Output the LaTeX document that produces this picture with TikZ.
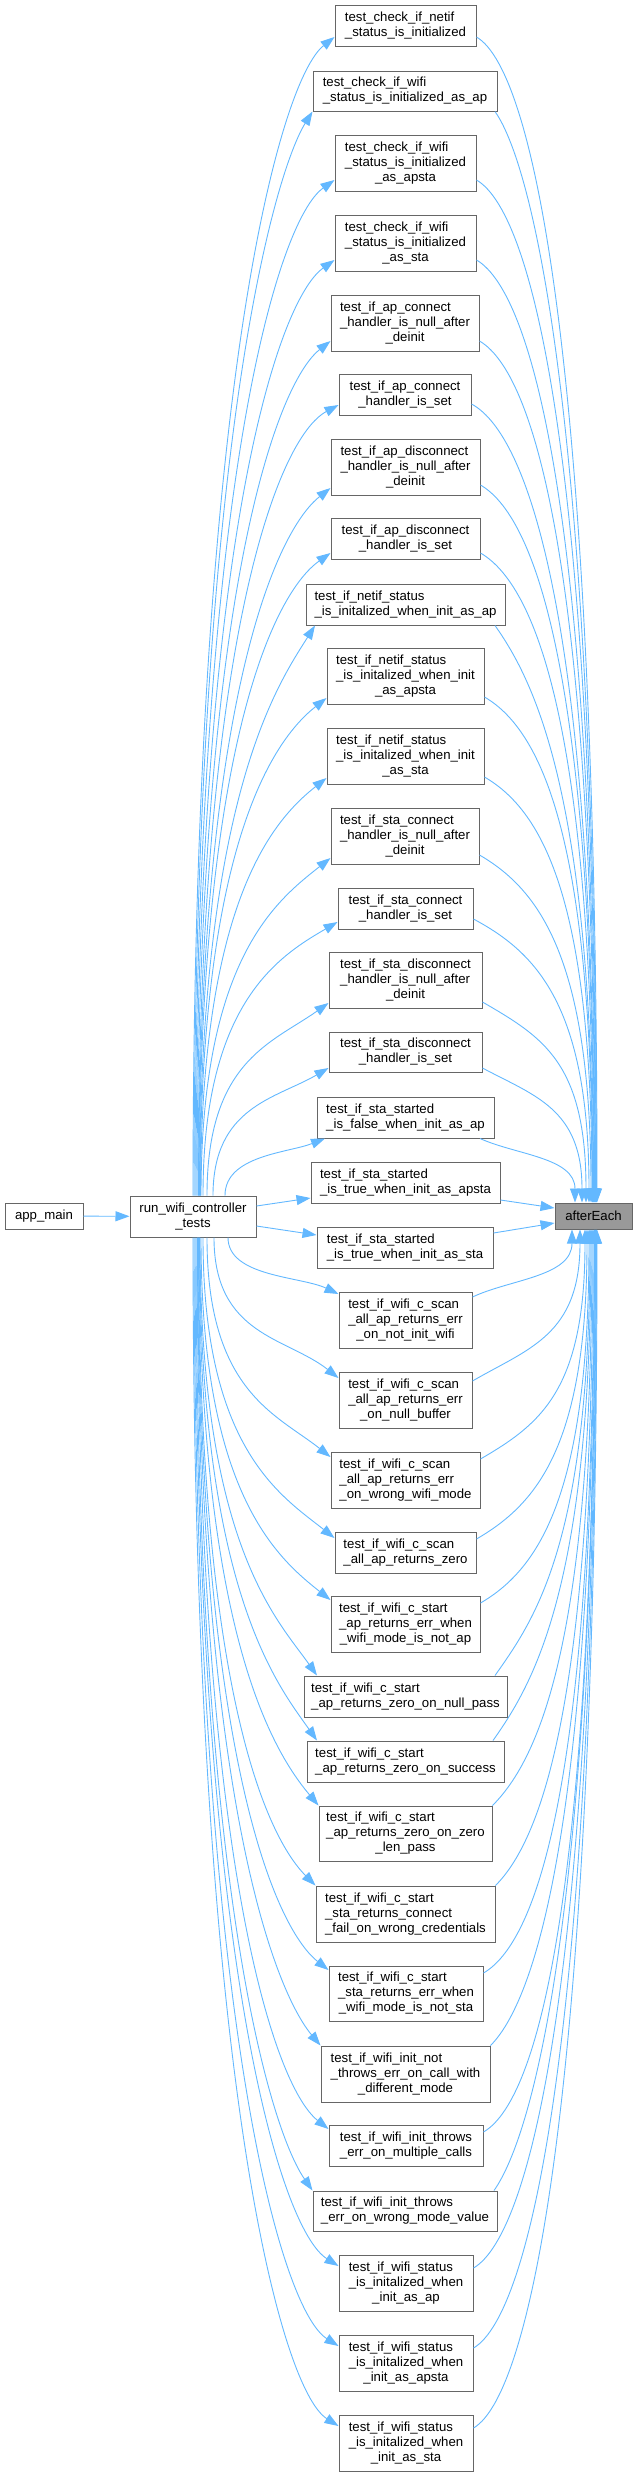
\documentclass[tikz,border=0pt]{standalone}
\usepackage{fontspec}
\setmainfont{Liberation Sans}
\usetikzlibrary{arrows.meta,calc}
\definecolor{edgeblue}{HTML}{63B8FF}
\definecolor{boxline}{HTML}{666666}
\definecolor{aefill}{HTML}{999999}
\tikzset{
 tbox/.style={draw=boxline, line width=1pt, fill=white, inner sep=0pt, font=\fontsize{13.2}{15}\selectfont, text=black},
 conn/.style={draw=edgeblue, line width=0.9pt, -{Triangle[length=14pt,width=10pt]}},
}
\newcommand\lab[2]{\begin{tabular}{@{}l@{}}#1\\\multicolumn{1}{@{}c@{}}{#2}\end{tabular}}
\newcommand\T[6]{\node[tbox, minimum width=#4pt, minimum height=#5pt] (#1) at (#2,#3) {#6};}
% run -> test above
\newcommand\UpL[5]{%
\pgfmathsetmacro\qa{#3+0.3*(1196-#3)}%
\pgfmathsetmacro\qL{min(70,0.25*(abs(#2-#1)+abs(1196-#3)))}%
\pgfmathsetmacro\qbx{#2-\qL*cos(#4)}%
\pgfmathsetmacro\qby{#3+\qL*sin(#4)}%
\draw[conn] ($(run.north)+(#1-193,0)$) .. controls (#1,\qa) and (\qbx,\qby) .. (#5);}
% run -> test below
\newcommand\DnL[5]{%
\pgfmathsetmacro\qa{#3-0.3*(#3-1237)}%
\pgfmathsetmacro\qL{min(70,0.25*(abs(#2-#1)+abs(#3-1237)))}%
\pgfmathsetmacro\qbx{#2-\qL*cos(#4)}%
\pgfmathsetmacro\qby{#3-\qL*sin(#4)}%
\draw[conn] ($(run.south)+(#1-193,0)$) .. controls (#1,\qa) and (\qbx,\qby) .. (#5);}
% test above -> afterEach
\newcommand\UpR[5]{%
\pgfmathsetmacro\qL{min(70,0.25*(abs(#5-#2)+abs(1203-#3)))}%
\pgfmathsetmacro\qax{#2+\qL*cos(#4)}%
\pgfmathsetmacro\qay{#3+\qL*sin(#4)}%
\pgfmathsetmacro\qb{#3+0.3*(1203-#3)}%
\draw[conn] (#1) .. controls (\qax,\qay) and (#5,\qb) .. ($(ae.north)+(#5-593.5,0)$);}
% test below -> afterEach
\newcommand\DnR[5]{%
\pgfmathsetmacro\qL{min(70,0.25*(abs(#5-#2)+abs(#3-1229)))}%
\pgfmathsetmacro\qax{#2+\qL*cos(#4)}%
\pgfmathsetmacro\qay{#3-\qL*sin(#4)}%
\pgfmathsetmacro\qb{#3-0.3*(#3-1229)}%
\draw[conn] (#1) .. controls (\qax,\qay) and (#5,\qb) .. ($(ae.south)+(#5-593.5,0)$);}
\begin{document}
\begin{tikzpicture}[x=1pt,y=-1pt]
\useasboundingbox (0,0) rectangle (637,2476);
% nodes
\T{app}{44}{1216}{78}{26}{app\_main}
\T{run}{193}{1216.5}{126}{41}{\lab{run\_wifi\_controller}{\_tests}}
\node[tbox, fill=aefill, minimum width=77pt, minimum height=26pt] (ae) at (593.5,1216) {afterEach};
\T{t1}{405.5}{25.5}{141}{41}{\lab{test\_check\_if\_netif}{\_status\_is\_initialized}}
\T{t2}{405}{91}{184}{40}{\lab{test\_check\_if\_wifi}{\_status\_is\_initialized\_as\_ap}}
\T{t3}{405.5}{163}{141}{56}{\lab{test\_check\_if\_wifi\\\_status\_is\_initialized}{\_as\_apsta}}
\T{t4}{405.5}{243}{141}{56}{\lab{test\_check\_if\_wifi\\\_status\_is\_initialized}{\_as\_sta}}
\T{t5}{405}{323}{148}{56}{\lab{test\_if\_ap\_connect\\\_handler\_is\_null\_after}{\_deinit}}
\T{t6}{405}{394.5}{132}{41}{\lab{test\_if\_ap\_connect}{\_handler\_is\_set}}
\T{t7}{405.5}{467}{149}{56}{\lab{test\_if\_ap\_disconnect\\\_handler\_is\_null\_after}{\_deinit}}
\T{t8}{405.5}{538.5}{149}{41}{\lab{test\_if\_ap\_disconnect}{\_handler\_is\_set}}
\T{t9}{405.5}{604.5}{199}{41}{\lab{test\_if\_netif\_status}{\_is\_initalized\_when\_init\_as\_ap}}
\T{t10}{405.5}{676}{157}{56}{\lab{test\_if\_netif\_status\\\_is\_initalized\_when\_init}{\_as\_apsta}}
\T{t11}{405.5}{756}{157}{56}{\lab{test\_if\_netif\_status\\\_is\_initalized\_when\_init}{\_as\_sta}}
\T{t12}{405}{836}{148}{56}{\lab{test\_if\_sta\_connect\\\_handler\_is\_null\_after}{\_deinit}}
\T{t13}{405.5}{908.5}{135}{41}{\lab{test\_if\_sta\_connect}{\_handler\_is\_set}}
\T{t14}{405.5}{980}{153}{56}{\lab{test\_if\_sta\_disconnect\\\_handler\_is\_null\_after}{\_deinit}}
\T{t15}{405.5}{1052}{153}{40}{\lab{test\_if\_sta\_disconnect}{\_handler\_is\_set}}
\T{t16}{405.5}{1117.5}{177}{41}{\lab{test\_if\_sta\_started}{\_is\_false\_when\_init\_as\_ap}}
\T{t17}{405.5}{1182.5}{189}{41}{\lab{test\_if\_sta\_started}{\_is\_true\_when\_init\_as\_apsta}}
\T{t18}{405}{1247.5}{176}{41}{\lab{test\_if\_sta\_started}{\_is\_true\_when\_init\_as\_sta}}
\T{t19}{405.5}{1320}{133}{56}{\lab{test\_if\_wifi\_c\_scan\\\_all\_ap\_returns\_err}{\_on\_not\_init\_wifi}}
\T{t20}{405.5}{1400}{133}{56}{\lab{test\_if\_wifi\_c\_scan\\\_all\_ap\_returns\_err}{\_on\_null\_buffer}}
\T{t21}{405.5}{1480}{149}{56}{\lab{test\_if\_wifi\_c\_scan\\\_all\_ap\_returns\_err}{\_on\_wrong\_wifi\_mode}}
\T{t22}{405.5}{1552.5}{141}{41}{\lab{test\_if\_wifi\_c\_scan}{\_all\_ap\_returns\_zero}}
\T{t23}{405.5}{1624}{149}{56}{\lab{test\_if\_wifi\_c\_start\\\_ap\_returns\_err\_when}{\_wifi\_mode\_is\_not\_ap}}
\T{t24}{405.5}{1696.5}{203}{41}{\lab{test\_if\_wifi\_c\_start}{\_ap\_returns\_zero\_on\_null\_pass}}
\T{t25}{405.5}{1761.5}{197}{41}{\lab{test\_if\_wifi\_c\_start}{\_ap\_returns\_zero\_on\_success}}
\T{t26}{405.5}{1833.5}{173}{55}{\lab{test\_if\_wifi\_c\_start\\\_ap\_returns\_zero\_on\_zero}{\_len\_pass}}
\T{t27}{405.5}{1914}{179}{56}{\lab{test\_if\_wifi\_c\_start\\\_sta\_returns\_connect}{\_fail\_on\_wrong\_credentials}}
\T{t28}{406}{1993.5}{154}{55}{\lab{test\_if\_wifi\_c\_start\\\_sta\_returns\_err\_when}{\_wifi\_mode\_is\_not\_sta}}
\T{t29}{405.5}{2074}{169}{56}{\lab{test\_if\_wifi\_init\_not\\\_throws\_err\_on\_call\_with}{\_different\_mode}}
\T{t30}{406}{2145.5}{154}{41}{\lab{test\_if\_wifi\_init\_throws}{\_err\_on\_multiple\_calls}}
\T{t31}{405}{2211}{184}{40}{\lab{test\_if\_wifi\_init\_throws}{\_err\_on\_wrong\_mode\_value}}
\T{t32}{406}{2283}{134}{56}{\lab{test\_if\_wifi\_status\\\_is\_initalized\_when}{\_init\_as\_ap}}
\T{t33}{406}{2363}{134}{56}{\lab{test\_if\_wifi\_status\\\_is\_initalized\_when}{\_init\_as\_apsta}}
\T{t34}{406}{2443}{134}{56}{\lab{test\_if\_wifi\_status\\\_is\_initalized\_when}{\_init\_as\_sta}}
% app -> run
\draw[conn] (app) -- (run);
% run -> tests above
\UpL{193}{335}{37}{38}{t1.west |- 0,37}
\UpL{194}{313}{111}{58}{t2.south west}
\UpL{195}{335}{180}{35}{t3.west |- 0,180}
\UpL{196}{335}{260}{35}{t4.west |- 0,260}
\UpL{197}{331}{341}{38}{t5.west |- 0,341}
\UpL{198}{339}{405}{28}{t6.west |- 0,405}
\UpL{198.5}{331}{488}{38}{t7.west |- 0,488}
\UpL{199}{331}{553}{35}{t8.west |- 0,553}
\UpL{199.5}{315}{625}{58}{315,0 |- t9.south}
\UpL{200}{327}{698}{38}{t10.west |- 0,698}
\UpL{200.5}{327}{778}{38}{t11.west |- 0,778}
\UpL{201}{331}{858}{38}{t12.west |- 0,858}
\UpL{203}{338}{922}{30}{t13.west |- 0,922}
\UpL{207}{329}{1003}{35}{t14.west |- 0,1003}
\UpL{213}{329}{1068}{30}{t15.west |- 0,1068}
\UpL{225}{325}{1138}{22}{325,0 |- t16.south}
\draw[conn] (run.east |- 0,1206) -- (t17.west |- 0,1198);
\draw[conn] (run.east |- 0,1226) -- (t18.west |- 0,1235);
% run -> tests below
\DnL{228}{339}{1294}{25}{t19.west |- 0,1294}
\DnL{214}{339}{1378}{38}{t20.west |- 0,1378}
\DnL{207}{331}{1457}{38}{t21.west |- 0,1457}
\DnL{203}{335}{1538}{38}{t22.west |- 0,1538}
\DnL{201}{331}{1600}{38}{t23.west |- 0,1600}
\DnL{200}{317}{1676}{55}{317,0 |- t24.north}
\DnL{199.5}{317}{1741}{55}{317,0 |- t25.north}
\DnL{199}{319}{1806}{50}{t26.north west}
\DnL{198.5}{316}{1886}{45}{t27.north west}
\DnL{198}{329}{1970}{38}{t28.west |- 0,1970}
\DnL{197.5}{321}{2046}{50}{t29.north west}
\DnL{197}{329}{2129}{38}{t30.west |- 0,2129}
\DnL{196}{313}{2191}{55}{t31.north west}
\DnL{195}{339}{2266}{32}{t32.west |- 0,2266}
\DnL{194}{339}{2346}{32}{t33.west |- 0,2346}
\DnL{193}{339}{2426}{32}{t34.west |- 0,2426}
% tests above -> afterEach
\UpR{t1.east |- 0,37}{476}{37}{30}{597}
\UpR{495,0 |- t2.south}{495}{111}{55}{596.5}
\UpR{t3.east |- 0,180}{476}{180}{30}{596}
\UpR{t4.east |- 0,260}{476}{260}{30}{595.5}
\UpR{t5.east |- 0,341}{479}{341}{30}{595}
\UpR{t6.east |- 0,404}{471}{404}{28}{594.5}
\UpR{t7.east |- 0,485}{480}{485}{30}{594}
\UpR{t8.east |- 0,553}{480}{553}{30}{593.5}
\UpR{495,0 |- t9.south}{495}{625}{55}{593}
\UpR{t10.east |- 0,697}{484}{697}{30}{592.5}
\UpR{t11.east |- 0,777}{484}{777}{30}{592}
\UpR{t12.east |- 0,855}{479}{855}{30}{591}
\UpR{t13.east |- 0,919}{473}{919}{28}{589}
\UpR{t14.east |- 0,1002}{482}{1002}{30}{586}
\UpR{t15.east |- 0,1068}{482}{1068}{28}{582}
\UpR{480,0 |- t16.south}{480}{1138}{25}{575}
\draw[conn] (t17.east |- 0,1200) -- (ae.west |- 0,1208);
\draw[conn] (t18.east |- 0,1233) -- (ae.west |- 0,1223);
% tests below -> afterEach
\DnR{t19.east |- 0,1297}{472}{1297}{25}{572}
\DnR{t20.east |- 0,1381}{472}{1381}{30}{580}
\DnR{t21.east |- 0,1459}{480}{1459}{30}{585}
\DnR{t22.east |- 0,1539}{476}{1539}{30}{587}
\DnR{t23.east |- 0,1603}{480}{1603}{30}{589}
\DnR{495,0 |- t24.north}{495}{1676}{55}{590}
\DnR{493,0 |- t25.north}{493}{1741}{55}{591}
\DnR{t26.north east}{492}{1806}{45}{592}
\DnR{t27.north east}{495}{1886}{45}{593}
\DnR{t28.east |- 0,1973}{483}{1973}{30}{594}
\DnR{t29.north east}{490}{2046}{45}{594.5}
\DnR{t30.east |- 0,2132}{483}{2132}{30}{595}
\DnR{494,0 |- t31.north}{494}{2191}{55}{595.5}
\DnR{t32.east |- 0,2268}{473}{2268}{30}{596}
\DnR{t33.east |- 0,2348}{473}{2348}{30}{596.5}
\DnR{t34.east |- 0,2428}{473}{2428}{30}{597}
\end{tikzpicture}
\end{document}
